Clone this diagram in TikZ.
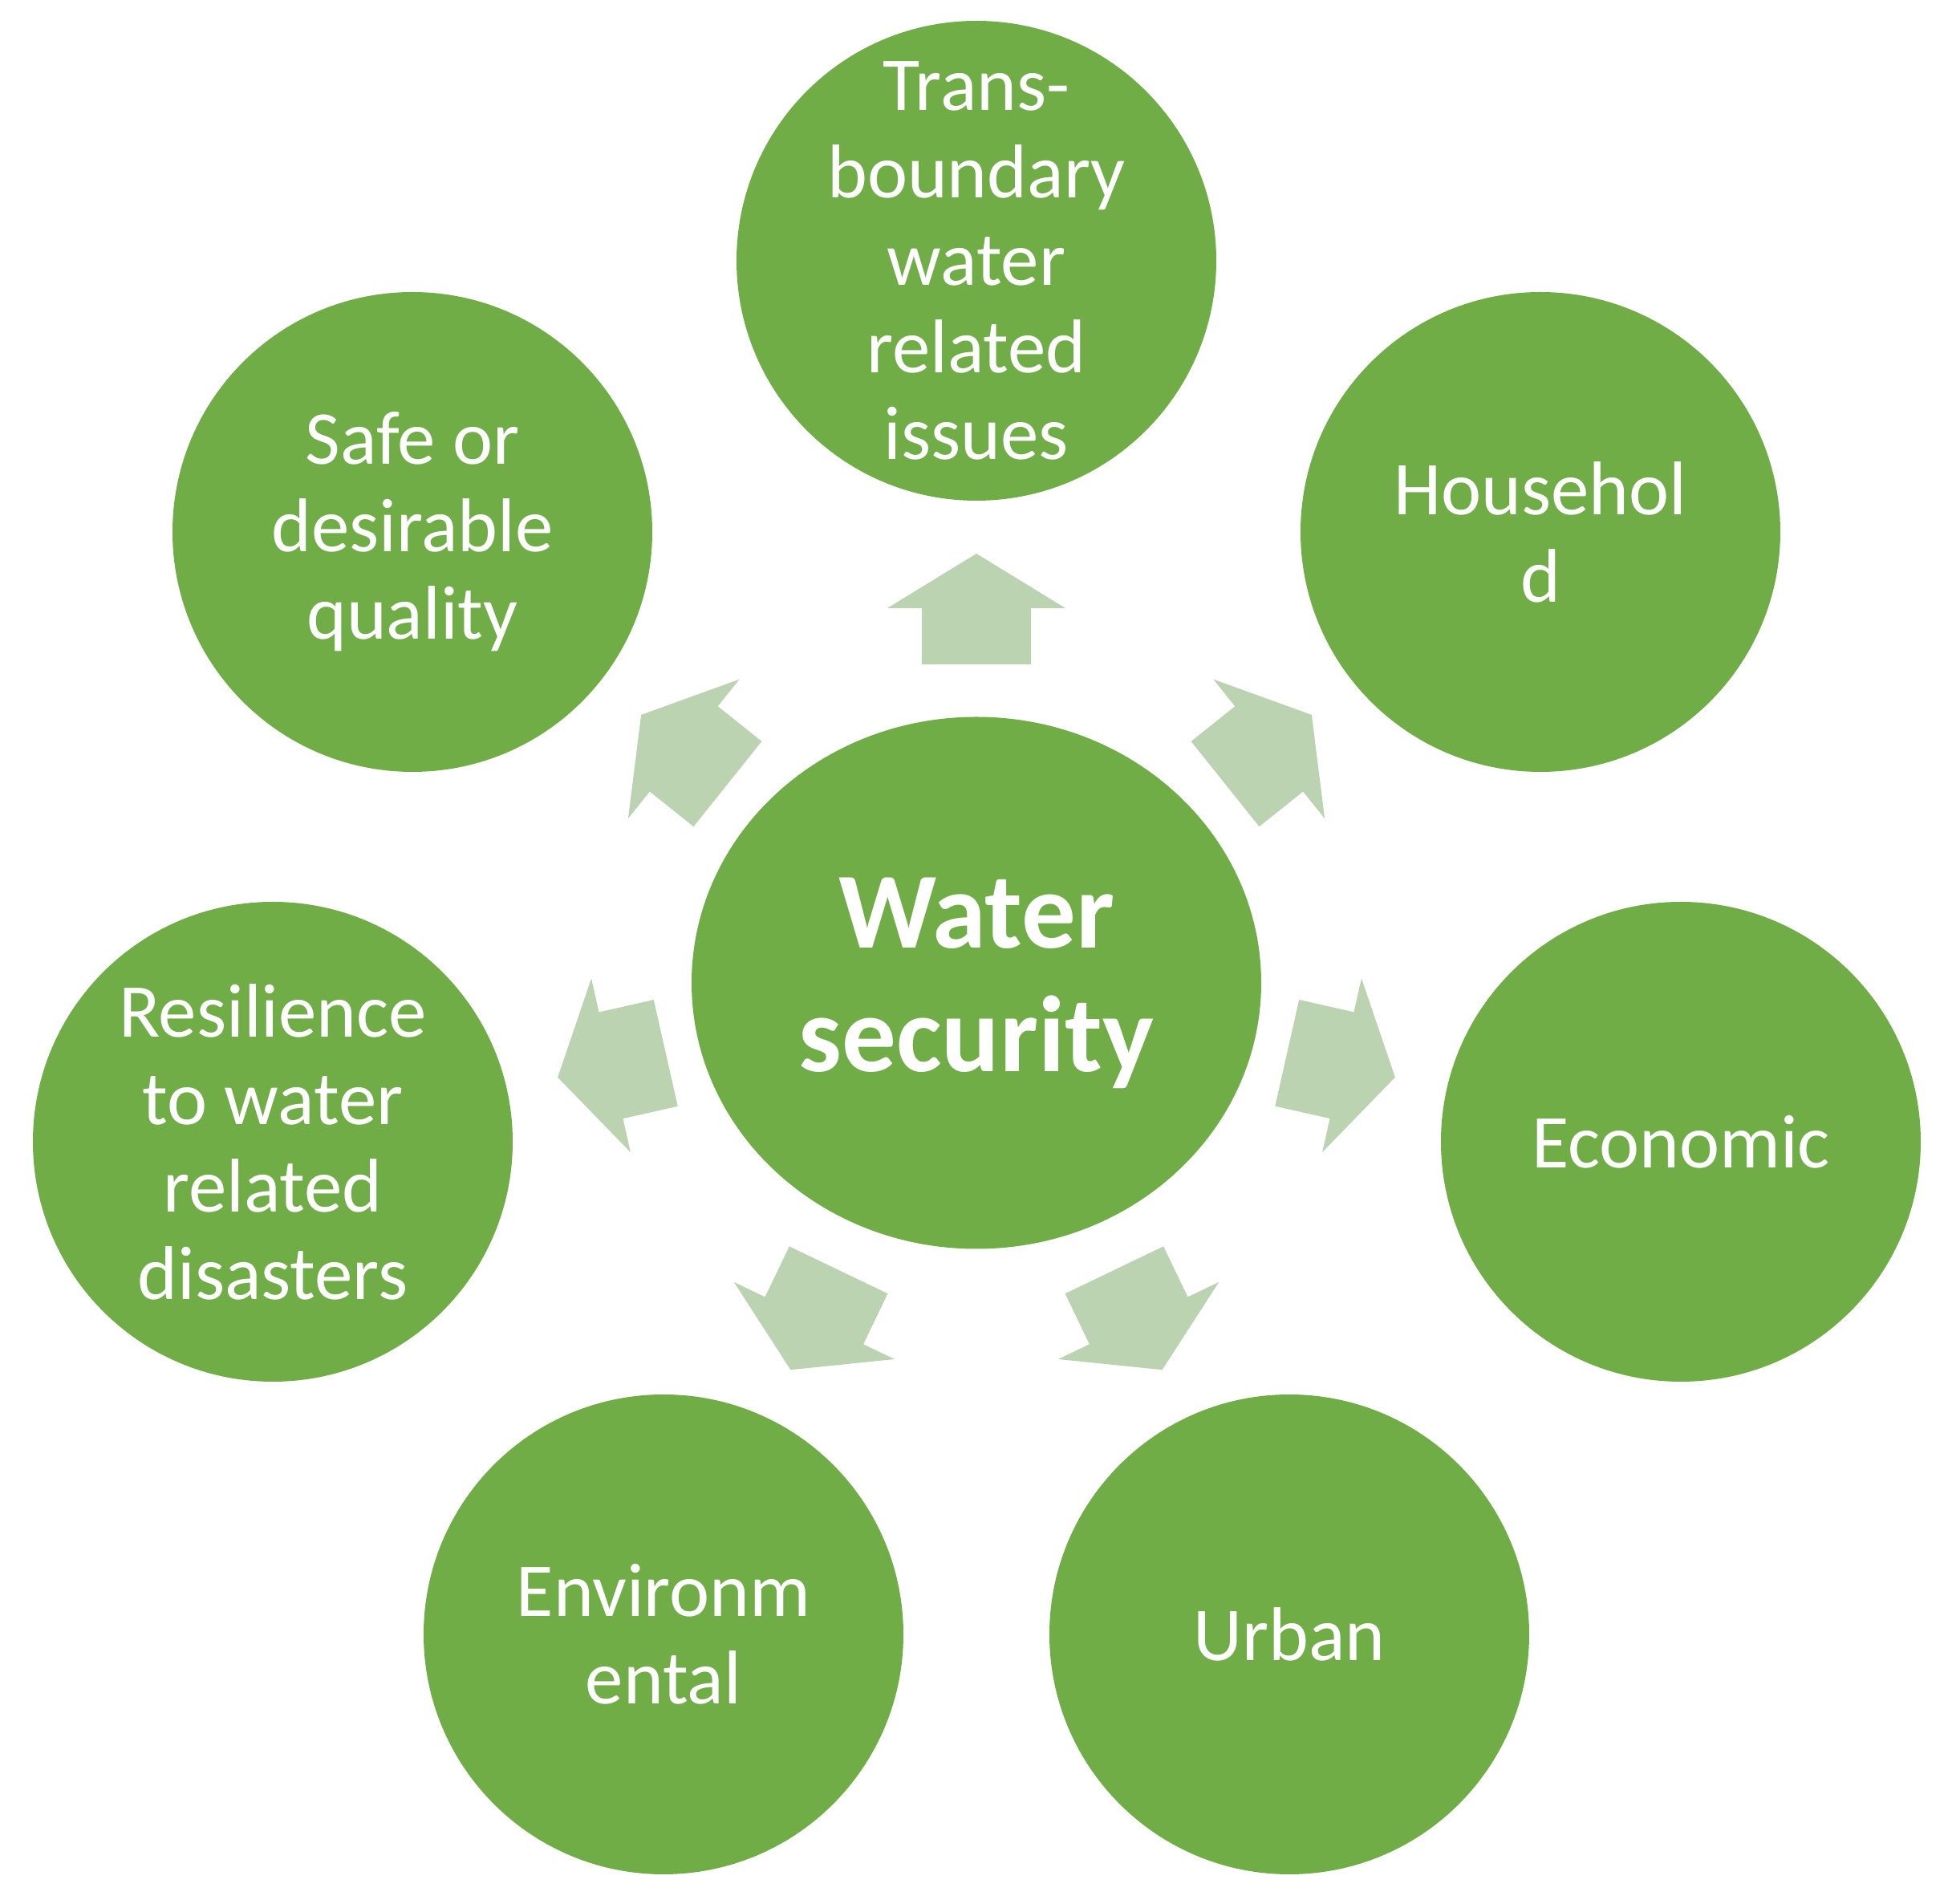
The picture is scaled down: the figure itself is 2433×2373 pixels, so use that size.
\documentclass[tikz,border=0pt]{standalone}
\usepackage{fontspec}
\setmainfont{Carlito}
\usepackage{xcolor}
\usetikzlibrary{calc,shapes.geometric}

\definecolor{leafgreen}{RGB}{112,173,71}
\definecolor{palegreen}{RGB}{187,211,176}

\tikzset{
  topic/.style={fill=leafgreen, circle, minimum size=5.98cm, inner sep=0pt,
    text=white, align=center, font=\fontsize{27}{31}\selectfont},
  hub/.style={fill=leafgreen, ellipse, minimum width=7.1cm, minimum height=6.63cm,
    inner sep=0pt, text=white, align=center,
    font=\fontsize{38.4}{43.8}\selectfont\bfseries}
}

\begin{document}
\begin{tikzpicture}[x=0.1mm,y=0.1mm]
            \useasboundingbox (0,0) rectangle (2433,2373);
            \node[hub] (ws) at (1217,1148) {Water\\security};
            \node[topic, inner sep=-4mm] (trans) at (1217,2048) {Trans-\\boundary\\water\\related\\issues};
            \node[topic] (house) at (1920,1710) {Househol\\d};
            \node[topic] (econ) at (2095,950) {Economic};
            \node[topic] (urban) at (1607,336) {Urban};
            \node[topic] (envir) at (827,336) {Environm\\ental};
            \node[topic] (resil) at (340,950) {Resilience\\to water\\related\\disasters};
            \node[topic] (safe) at (514,1710) {Safe or\\desirable\\quality};
            % block arrows from the hub towards each topic
            \foreach \t in {trans,house,econ,urban,envir,resil,safe}
                \fill[palegreen] let \p1 = ($(\t)-(ws)$), \n1 = {atan2(\y1,\x1)} in
                    [shift={(ws)}, rotate=\n1]
                    (397,-68) -- (467,-68) -- (467,-111) -- (535,0)
                    -- (467,111) -- (467,68) -- (397,68) -- cycle;
        \end{tikzpicture}
\end{document}
